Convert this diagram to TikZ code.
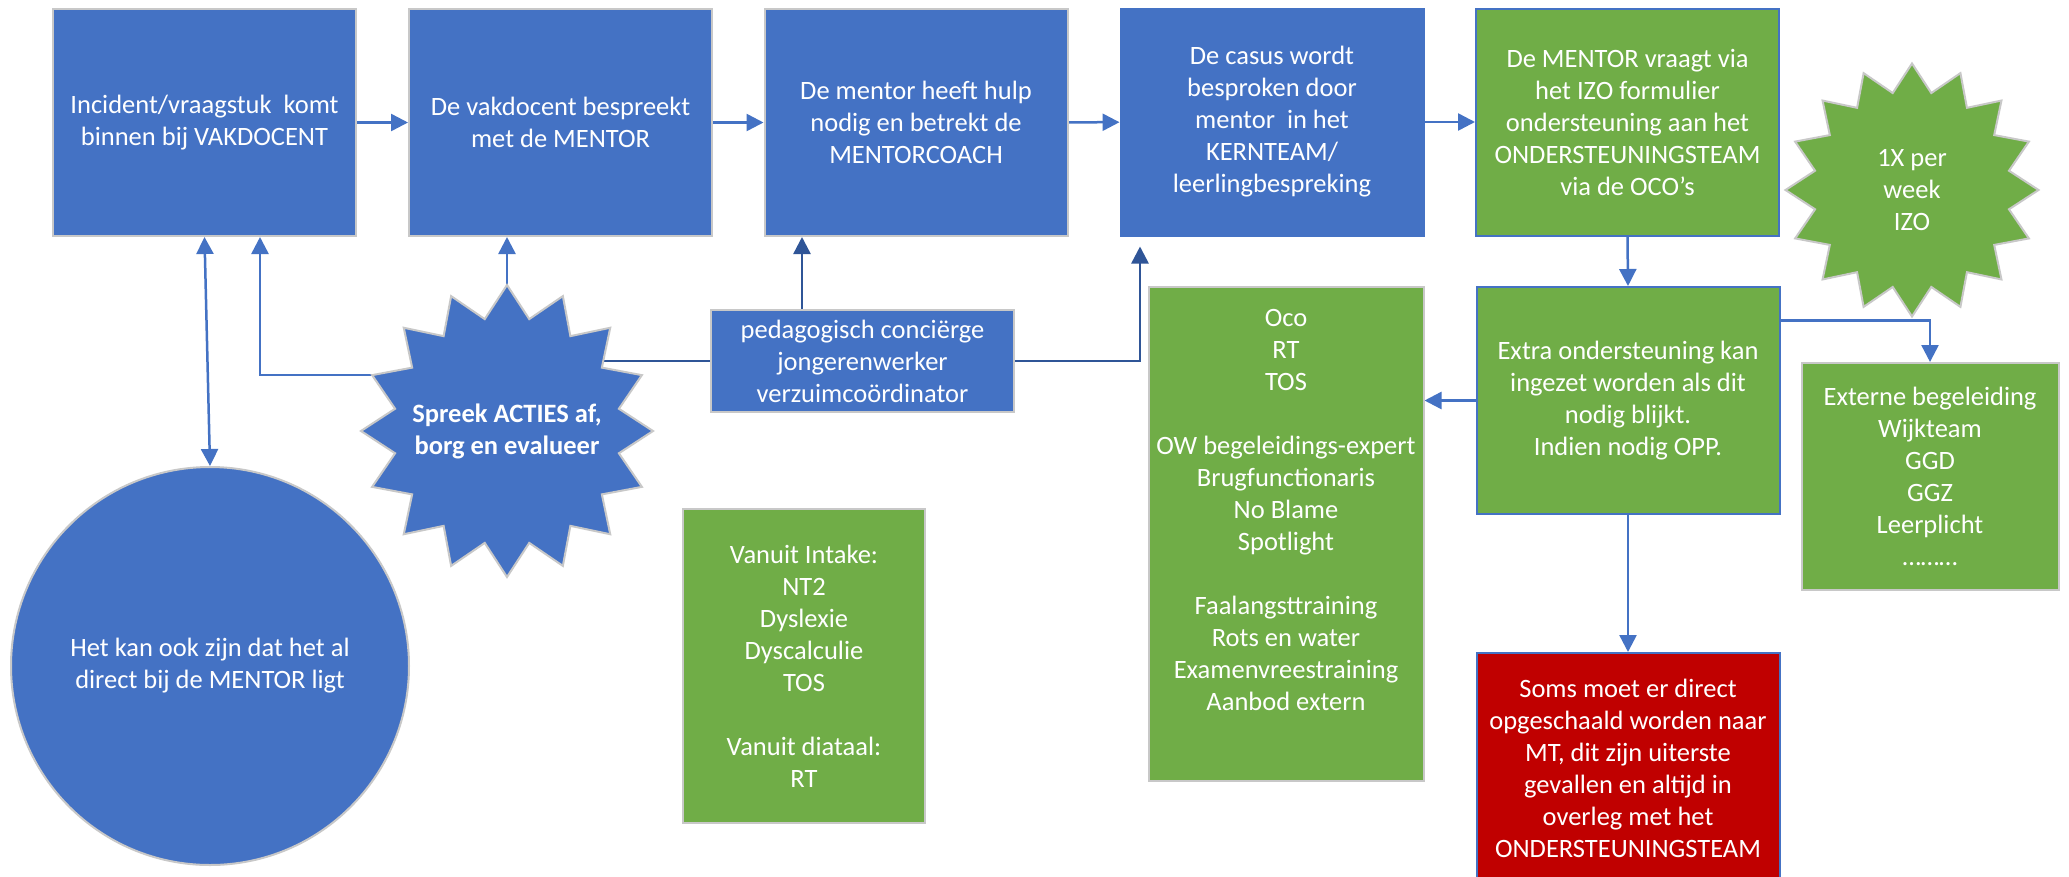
\documentclass[tikz,border=0pt]{standalone}
\usepackage{fontspec}
\setmainfont{Carlito}
\usetikzlibrary{shapes.geometric,arrows.meta,backgrounds}
\definecolor{cblue}{HTML}{4472C4}
\definecolor{cgreen}{HTML}{70AD47}
\definecolor{cred}{HTML}{C00000}
\definecolor{cdark}{HTML}{2F5597}
\definecolor{cgray}{HTML}{C8C8C8}
\begin{document}
\begin{tikzpicture}[x=1pt,y=-1pt,
  box/.style={rectangle, draw=cgray, line width=2pt, text=white, align=center, inner sep=0pt,
    font=\fontsize{26.5}{32}\selectfont},
  bluebox/.style={box, fill=cblue},
  greenbox/.style={box, fill=cgreen},
  bigbox/.style={minimum width=303pt, minimum height=227pt},
  starbox/.style={star, star points=16, star point ratio=1.28, draw=cgray, line width=2pt,
    inner sep=0pt},
  startext/.style={text=white, align=center, font=\fontsize{26.5}{32}\selectfont},
  arr/.style={draw=cblue, line width=2.5pt, -{Triangle[length=17pt,width=17pt]}},
  darr/.style={draw=cdark, line width=2.5pt, -{Triangle[length=17pt,width=17pt]}},
  dline/.style={draw=cdark, line width=2.5pt},
  dblarr/.style={draw=cblue, line width=2.5pt, {Triangle[length=17pt,width=17pt]}-{Triangle[length=17pt,width=17pt]}}
]
\clip (0,0) rectangle (2069,876);
\begin{pgfonlayer}{background}
\fill[white] (0,0) rectangle (2069,876);
\end{pgfonlayer}

% top row
\node[bluebox, bigbox] (b1) at (204.5,122.5) {Incident/vraagstuk \ komt\\binnen bij VAKDOCENT};
\node[bluebox, bigbox] (b2) at (560.5,122.5) {De vakdocent bespreekt\\met de MENTOR};
\node[bluebox, bigbox] (b3) at (916,122.5) {De mentor heeft hulp\\nodig en betrekt de\\MENTORCOACH};
\node[bluebox, bigbox, draw=cblue] (b4) at (1272,122) {De casus wordt\\besproken door\\mentor \ in het\\KERNTEAM/\\leerlingbespreking};
\node[greenbox, bigbox, draw=cblue] (b5) at (1627.5,122) {De MENTOR vraagt via\\het IZO formulier\\ondersteuning aan het\\ONDERSTEUNINGSTEAM\\via de OCO's};
\node[starbox, fill=cgreen, minimum size=253pt,
  label={[startext]center:1X per\\week\\IZO}] (s1x) at (1912,190) {};

% middle / right
\node[greenbox, bigbox, draw=cblue] (b6) at (1628,400.5) {Extra ondersteuning kan\\ingezet worden als dit\\nodig blijkt.\\Indien nodig OPP.};
\node[greenbox, minimum width=275pt, minimum height=494pt] (ow) at (1286,534) {Oco\\RT\\TOS\\[32pt]OW begeleidings-expert\\Brugfunctionaris\\No Blame\\Spotlight\\[32pt]Faalangsttraining\\Rots en water\\Examenvreestraining\\Aanbod extern\\[16pt]\mbox{}};
\node[greenbox, minimum width=257pt, minimum height=227pt] (ext) at (1930,476.5) {Externe begeleiding\\Wijkteam\\GGD\\GGZ\\Leerplicht\\………};
\node[box, fill=cred, draw=cblue, minimum width=303pt, minimum height=230pt] (red) at (1628,768) {Soms moet er direct\\opgeschaald worden naar\\MT, dit zijn uiterste\\gevallen en altijd in\\overleg met het\\ONDERSTEUNINGSTEAM};

% left / middle
\node[bluebox, minimum width=303pt, minimum height=102pt] (ped) at (862.5,361) {pedagogisch conciërge\\jongerenwerker\\verzuimcoördinator};
\node[starbox, fill=cblue, minimum size=292pt,
  label={[startext, font=\fontsize{26.5}{32}\selectfont\bfseries]center:Spreek ACTIES af,\\borg en evalueer}] (spreek) at (507,431) {};
\node[circle, draw=cgray, line width=2pt, fill=cblue, text=white, align=center, inner sep=0pt,
  minimum size=398pt, font=\fontsize{26.5}{32}\selectfont] (circ) at (210,666) {Het kan ook zijn dat het al\\direct bij de MENTOR ligt};
\node[greenbox, minimum width=242pt, minimum height=314pt] (van) at (804,666) {Vanuit Intake:\\NT2\\Dyslexie\\Dyscalculie\\TOS\\[32pt]Vanuit diataal:\\RT};

% connectors
\begin{pgfonlayer}{background}
\draw[arr] (b1) -- (b2);
\draw[arr] (b2) -- (b3);
\draw[arr] (b3) -- (b4);
\draw[arr] (b4) -- (b5);
\draw[arr] (b5.south) -- (b6.north);
\draw[arr] (b6.west) -- (b6.west -| ow.east);
\draw[arr] ([yshift=80pt]b6.east) -| (ext.north);
\draw[arr] (b6.south) -- (red.north);
\draw[dblarr] (b1.south) -- (circ.north);
\draw[arr] ([yshift=56pt]spreek.center) -| ([xshift=55.5pt]b1.south);
\draw[arr] (spreek.center) -- (spreek.center |- b2.south);
\draw[dline] (spreek.center |- ped.west) -- (ped.west);
\draw[darr] ([xshift=-60.5pt]ped.north) -- ([xshift=-60.5pt]ped.north |- b3.south);
\draw[darr, shorten >=10pt] (ped.east) -| ([xshift=-132pt]b4.south);
\end{pgfonlayer}
\end{tikzpicture}
\end{document}
